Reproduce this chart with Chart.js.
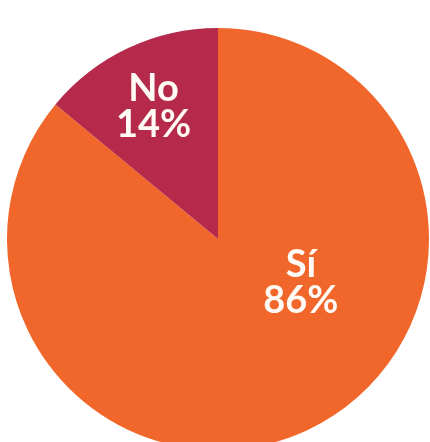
<!DOCTYPE html>
<html lang="es">
<head>
    <meta charset="UTF-8">
    <title>Sí / No</title>
    <script src="https://cdn.jsdelivr.net/npm/chart.js@4.4.1/dist/chart.umd.min.js"></script>
    <style>
        html, body {
            margin: 0;
            padding: 0;
            width: 430px;
            height: 442px;
            overflow: hidden;
            background: #ffffff;
        }

        .chart-box {
            position: absolute;
            left: 7px;
            top: 28px;
            width: 422px;
            height: 422px;
        }
    </style>
</head>
<body>
    <div class="chart-box">
        <canvas id="pieChart"></canvas>
    </div>

<script>
const labels = ["Sí", "No"];
const values = [86, 14];
const sliceColors = ["#F1672B", "#B52A4A"];

// where each label sits: angle (deg, canvas coords) and fraction of the radius
const labelSpots = [
  { angle: 28, dist: 0.445 },
  { angle: -116, dist: 0.697 }
];

const sliceLabels = {
  id: "sliceLabels",
  afterDatasetsDraw(chart) {
    const ctx = chart.ctx;
    const arcs = chart.getDatasetMeta(0).data;
    ctx.save();
    ctx.fillStyle = "#fffaf5";
    ctx.font = "bold 38px Lato, 'Open Sans', sans-serif";
    ctx.textAlign = "center";
    ctx.textBaseline = "middle";
    arcs.forEach((arc, i) => {
      const spot = labelSpots[i];
      const a = spot.angle * Math.PI / 180;
      const x = arc.x + Math.cos(a) * arc.outerRadius * spot.dist;
      const y = arc.y + Math.sin(a) * arc.outerRadius * spot.dist;
      ctx.fillText(labels[i], x, y - 18);
      ctx.fillText(values[i] + "%", x, y + 18);
    });
    ctx.restore();
  }
};

new Chart("pieChart", {
  type: "pie",
  data: {
    labels: labels,
    datasets: [{
      data: values,
      backgroundColor: sliceColors,
      borderWidth: 0
    }]
  },
  options: {
    responsive: true,
    maintainAspectRatio: false,
    animation: false,
    layout: { padding: 0 },
    plugins: {
      legend: { display: false },
      tooltip: { enabled: false }
    }
  },
  plugins: [sliceLabels]
});
</script>
</body>
</html>
